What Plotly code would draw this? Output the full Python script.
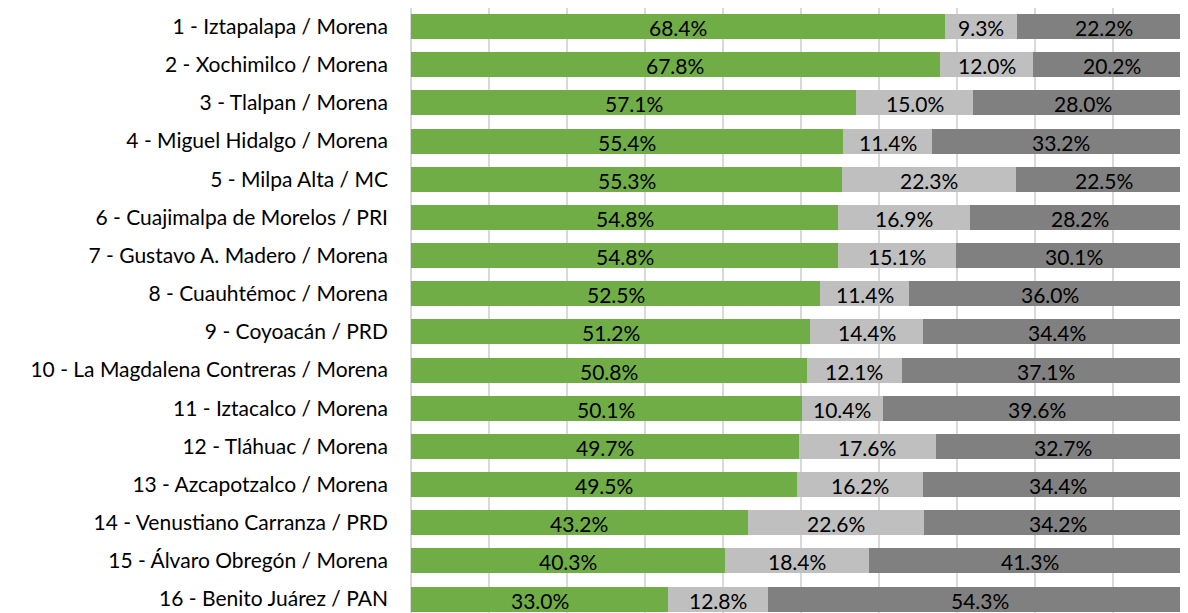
import plotly.graph_objects as go

labels = [
    "1 - Iztapalapa / Morena",
    "2 - Xochimilco / Morena",
    "3 - Tlalpan / Morena",
    "4 - Miguel Hidalgo / Morena",
    "5 - Milpa Alta / MC",
    "6 - Cuajimalpa de Morelos / PRI",
    "7 - Gustavo A. Madero / Morena",
    "8 - Cuauhtémoc / Morena",
    "9 - Coyoacán / PRD",
    "10 - La Magdalena Contreras / Morena",
    "11 - Iztacalco / Morena",
    "12 - Tláhuac / Morena",
    "13 - Azcapotzalco / Morena",
    "14 - Venustiano Carranza / PRD",
    "15 - Álvaro Obregón / Morena",
    "16 - Benito Juárez / PAN",
]
winner = [68.4, 67.8, 57.1, 55.4, 55.3, 54.8, 54.8, 52.5, 51.2, 50.8, 50.1, 49.7, 49.5, 43.2, 40.3, 33.0]
middle = [9.3, 12.0, 15.0, 11.4, 22.3, 16.9, 15.1, 11.4, 14.4, 12.1, 10.4, 17.6, 16.2, 22.6, 18.4, 12.8]
rest = [22.2, 20.2, 28.0, 33.2, 22.5, 28.2, 30.1, 36.0, 34.4, 37.1, 39.6, 32.7, 34.4, 34.2, 41.3, 54.3]

series = [
    ("Ganador", winner, "#70AD47"),
    ("Segundo", middle, "#BFBFBF"),
    ("Resto", rest, "#808080"),
]

FONT = "Lato"
fig = go.Figure()
base = [0.0] * len(labels)
for name, vals, color in series:
    fig.add_trace(go.Bar(
        name=name,
        y=labels,
        x=vals,
        orientation="h",
        marker=dict(color=color, line=dict(width=0)),
        textposition="none",
        hoverinfo="skip",
    ))
    for lab, b, v in zip(labels, base, vals):
        fig.add_annotation(
            x=b + v / 2,
            y=lab,
            text=f"{v:.1f}%",
            showarrow=False,
            xanchor="center",
            yanchor="middle",
            yshift=-1,
            font=dict(family=FONT, size=21, color="black"),
        )
    base = [b + v for b, v in zip(base, vals)]

fig.update_layout(
    barmode="stack",
    bargap=0.345,
    width=1180,
    height=605,
    margin=dict(l=403, r=0, t=0, b=0),
    plot_bgcolor="white",
    paper_bgcolor="white",
    showlegend=False,
    font=dict(family=FONT, size=21, color="black"),
)
fig.update_xaxes(
    range=[0, 99.62],
    tick0=0,
    dtick=10,
    showgrid=True,
    gridcolor="#D9D9D9",
    gridwidth=1.5,
    zeroline=True,
    zerolinecolor="#D9D9D9",
    zerolinewidth=1.5,
    showticklabels=False,
    showline=False,
)
fig.update_yaxes(
    categoryorder="array",
    categoryarray=labels,
    range=[15.365, -0.485],
    showgrid=False,
    showline=False,
    ticks="",
    ticklabelstandoff=22,
    tickfont=dict(family=FONT, size=21, color="black"),
)
fig.write_html("out.html")
